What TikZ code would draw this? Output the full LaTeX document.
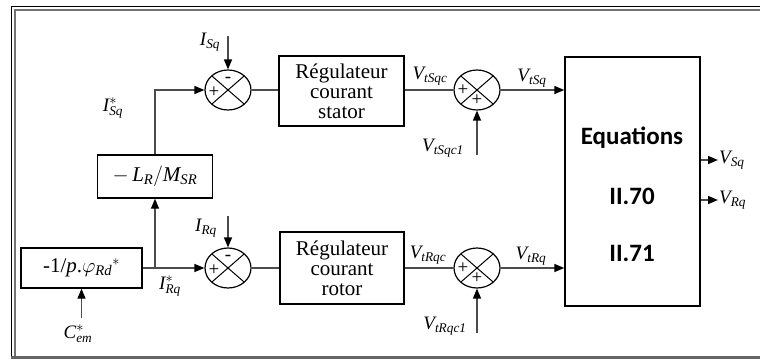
\documentclass[tikz,border=0pt]{standalone}
\usepackage{amsmath}
\usepackage{fontspec}
\setmainfont{Liberation Serif}
\newfontfamily\eqfont{Carlito}
\usetikzlibrary{arrows.meta,calc,positioning,shapes.geometric}
\newcommand{\sgl}[2]{\ensuremath{\textit{#1}_{\textit{#2}}}}
\newcommand{\sgr}[2]{\ensuremath{\textit{#1}^{*}_{\textit{#2}}}}
\tikzset{
  every node/.style={font=\fontsize{19}{20}\selectfont},
  block/.style={draw, line width=1.4pt, align=center, inner sep=0pt, font=\fontsize{21}{20}\selectfont},
  sumnode/.style={draw, ellipse, line width=1.2pt, minimum width=46pt, minimum height=40pt, inner sep=0pt,
    path picture={\draw[line width=1pt] (path picture bounding box.north west) -- (path picture bounding box.south east)
      (path picture bounding box.north east) -- (path picture bounding box.south west);}},
  wire/.style={line width=1.4pt, black!70},
  sig/.style={wire, -{Triangle[length=10pt,width=8pt,black]}},
  sign/.style={font=\fontsize{19}{19}\selectfont, inner sep=0pt},
  eqtext/.style={font=\eqfont\bfseries\fontsize{25}{26}\selectfont}
}
\begin{document}
\begin{tikzpicture}[x=1pt,y=-1pt]
  \useasboundingbox (0,0) rectangle (760,359);
  % Frame
  \draw[line width=1.5pt] (11.5,359) -- (11.5,6.5) -- (760,6.5);
  \draw[line width=2pt, black!55] (15,357) -- (15,10) -- (760,10);
  \draw[line width=3pt, black!60] (11,357.5) -- (760,357.5);

  % Stator branch
  \node[sumnode] (s1) at (228,90) {};
  \node[block, minimum width=125pt, minimum height=70pt] (regs) at (341.5,91) {Régulateur\\courant\\stator};
  \node[sumnode] (s3) at (477,90) {};
  \node[sign] (s1m) at ($(s1.center)+(0,-10)$) {-};
  \node[sign] (s1p) at ($(s1.center)+(-14,2)$) {+};
  \node[sign] (s3p) at ($(s3.center)+(-14,0)$) {+};
  \node[sign] (s3q) at ($(s3.center)+(0,10)$) {+};

  % Rotor branch
  \node[sumnode] (s2) at (228,268) {};
  \node[block, minimum width=124pt, minimum height=72pt] (regr) at (342,268) {Régulateur\\courant\\rotor};
  \node[sumnode] (s4) at (477,268) {};
  \node[sign] (s2m) at ($(s2.center)+(0,-10)$) {-};
  \node[sign] (s2p) at ($(s2.center)+(-14,2)$) {+};
  \node[sign] (s4p) at ($(s4.center)+(-14,0)$) {+};
  \node[sign] (s4q) at ($(s4.center)+(0,10)$) {+};

  % Reference blocks
  \node[block, minimum width=121pt, minimum height=40pt] (phi) at (81.5,268) {-1/\textit{p}.\ensuremath{\varphi_{\textit{Rd}}{}^{*}}};
  \node[block, minimum width=115pt, minimum height=43pt] (lr) at (155,176.5) {\ensuremath{-\,\textit{L}_{\textit{R}}/\textit{M}_{\textit{SR}}}};
  \coordinate (j) at (155,268);

  % Equations block
  \node[block, minimum width=135pt, minimum height=249pt] (eq) at (632.5,181.5) {};
  \node[eqtext] (eqa) at (632,138) {Equations};
  \node[eqtext] (eqb) at (632,196) {II.70};
  \node[eqtext] (eqc) at (632,253) {II.71};

  % Inputs
  \coordinate (isq) at (228,36);
  \coordinate (irq) at (228,216);
  \coordinate (cem) at (81.5,318);
  \coordinate (vsc1) at (477,155);
  \coordinate (vrc1) at (477,333);
  \draw[sig] (isq) -- (s1.north);
  \draw[sig] (irq) -- (s2.north);
  \draw[sig] (cem) -- (phi.south);
  \draw[sig] (vsc1) -- (s3.south);
  \draw[sig] (vrc1) -- (s4.south);

  % Connectors
  \draw[sig] (lr.north) |- (s1.west);
  \draw[sig] (phi.east) -- (s2.west);
  \draw[sig] (j) -- (lr.south);
  \draw[wire] (s1.east) -- (s1.east -| regs.west);
  \draw[wire] (s2.east) -- (regr.west);
  \draw[wire] (regs.east |- s3.west) -- (s3.west);
  \draw[wire] (regr.east) -- (s4.west);
  \draw[sig] (s3.east) -- (s3.east -| eq.west);
  \draw[sig] (s4.east) -- (s4.east -| eq.west);

  % Outputs
  \coordinate (osq) at (718,160);
  \coordinate (orq) at (718,200);
  \draw[sig] (osq -| eq.east) -- (osq);
  \draw[sig] (orq -| eq.east) -- (orq);
  \node[anchor=west, inner sep=1pt] (lvsq) at (osq) {\sgl{V}{Sq}};
  \node[anchor=west, inner sep=1pt] (lvrq) at (orq) {\sgl{V}{Rq}};

  % Labels
  \node (lisq) at (210,42) {\sgl{I}{Sq}};
  \node (lirq) at (206,228) {\sgl{I}{Rq}};
  \node (lisqr) at (113,108) {\sgr{I}{Sq}};
  \node (lirqr) at (170,286) {\sgr{I}{Rq}};
  \node (lcem) at (78,334) {\sgr{C}{em}};
  \node (lvsqc) at (430,76) {\sgl{V}{tSqc}};
  \node (lvrqc) at (428,255) {\sgl{V}{tRqc}};
  \node (lvsqc1) at (443,148) {\sgl{V}{tSqc1}};
  \node (lvrqc1) at (445,326) {\sgl{V}{tRqc1}};
  \node (lvtsq) at (532,78) {\sgl{V}{tSq}};
  \node (lvtrq) at (531,256) {\sgl{V}{tRq}};
\end{tikzpicture}
\end{document}
